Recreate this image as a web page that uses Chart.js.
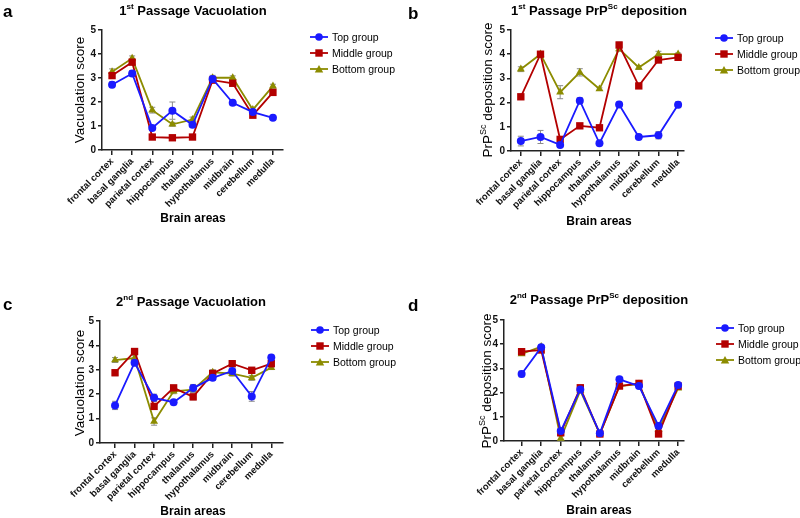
<!DOCTYPE html>
<html>
<head>
<meta charset="utf-8">
<script src="https://cdn.jsdelivr.net/npm/chart.js@4"></script>
<style>
  body { margin: 0; width: 800px; height: 518px; background: #fff; font-family: "Liberation Sans", Arial, sans-serif; color: #000; position: relative; overflow: hidden; }
  canvas { position: absolute; }
  .letter { position: absolute; font-weight: bold; font-size: 17px; }
  .title { position: absolute; width: 300px; text-align: center; font-weight: bold; font-size: 13px; line-height: 16px; }
  .title sup { font-size: 8px; vertical-align: 6px; line-height: 0; }
  .ytitle { position: absolute; width: 170px; text-align: center; font-size: 13.5px; line-height: 16px; transform: rotate(-90deg); white-space: nowrap; }
  .ytitle sup { font-size: 9px; vertical-align: 6px; line-height: 0; }
  .xtitle { position: absolute; width: 160px; text-align: center; font-weight: bold; font-size: 12px; line-height: 16px; }
  .legend { position: absolute; font-size: 10.5px; white-space: nowrap; }
  .legend div { display: flex; align-items: center; height: 16px; }
  .legend svg { margin-right: 4px; }
</style>
</head>
<body>
<canvas id="chartA" width="400" height="259" style="left:0;top:0"></canvas>
<canvas id="chartB" width="400" height="259" style="left:400px;top:0"></canvas>
<canvas id="chartC" width="400" height="259" style="left:0;top:259px"></canvas>
<canvas id="chartD" width="400" height="259" style="left:400px;top:259px"></canvas>
<div id="overlay"></div>

<script>
const categories = ["frontal cortex", "basal ganglia", "parietal cortex", "hippocampus", "thalamus",
  "hypothalamus", "midbrain", "cerebellum", "medulla"];
const groupNames = ["Top group", "Middle group", "Bottom group"];
const yTicks = [0, 1, 2, 3, 4, 5];

// a: 1st passage vacuolation
const vacTop1 = [2.72, 3.19, 0.92, 1.64, 1.05, 2.96, 1.97, 1.58, 1.34];
const vacMid1 = [3.10, 3.66, 0.54, 0.51, 0.54, 2.91, 2.78, 1.45, 2.40];
const vacBot1 = [3.26, 3.82, 1.66, 1.07, 1.27, 3.01, 3.01, 1.68, 2.66];
const vacTop1Err = [0.12, 0.12, 0.10, 0.36, 0.10, 0.10, 0.10, 0.10, 0.05];
const vacMid1Err = [0.10, 0.10, 0.05, 0.05, 0.05, 0.10, 0.10, 0.10, 0.10];
const vacBot1Err = [0.12, 0.10, 0.12, 0.08, 0.10, 0.10, 0.08, 0.08, 0.08];

// b: 1st passage PrPSc deposition
const depTop1 = [0.41, 0.58, 0.25, 2.08, 0.32, 1.92, 0.58, 0.65, 1.91];
const depMid1 = [2.24, 4.00, 0.48, 1.04, 0.96, 4.38, 2.69, 3.76, 3.87];
const depBot1 = [3.38, 4.00, 2.43, 3.25, 2.56, 4.22, 3.45, 4.00, 4.00];
const depTop1Err = [0.20, 0.27, 0.08, 0.12, 0.05, 0.10, 0.05, 0.15, 0.12];
const depMid1Err = [0.10, 0.05, 0.10, 0.08, 0.05, 0.12, 0.10, 0.10, 0.08];
const depBot1Err = [0.10, 0.05, 0.27, 0.15, 0.05, 0.10, 0.08, 0.12, 0.05];

// c: 2nd passage vacuolation
const vacTop2 = [1.54, 3.29, 1.85, 1.67, 2.25, 2.67, 2.95, 1.91, 3.50];
const vacMid2 = [2.88, 3.75, 1.50, 2.26, 1.89, 2.85, 3.25, 2.98, 3.25];
const vacBot2 = [3.40, 3.48, 0.88, 2.12, 2.19, 2.90, 2.84, 2.67, 3.09];
const vacTop2Err = [0.17, 0.12, 0.15, 0.10, 0.15, 0.10, 0.10, 0.20, 0.10];
const vacMid2Err = [0.12, 0.10, 0.12, 0.10, 0.12, 0.10, 0.10, 0.12, 0.10];
const vacBot2Err = [0.10, 0.10, 0.15, 0.10, 0.12, 0.10, 0.10, 0.10, 0.08];

// d: 2nd passage PrPSc deposition
const depTop2 = [2.77, 3.87, 0.41, 2.13, 0.32, 2.55, 2.27, 0.62, 2.31];
const depMid2 = [3.69, 3.76, 0.34, 2.20, 0.29, 2.27, 2.38, 0.29, 2.27];
const depBot2 = [3.60, 3.90, 0.11, 2.08, 0.29, 2.27, 2.35, 0.48, 2.18];
const depTop2Err = [0.12, 0.08, 0.08, 0.08, 0.05, 0.08, 0.08, 0.10, 0.08];
const depMid2Err = [0.08, 0.08, 0.10, 0.08, 0.05, 0.08, 0.08, 0.10, 0.08];
const depBot2Err = [0.05, 0.05, 0.10, 0.08, 0.05, 0.05, 0.05, 0.08, 0.05];

const colors = ["#1a1aff", "#b30000", "#8c8c00"];
const pointStyles = ["circle", "rect", "triangle"];
const pointRadii = [4, 5.2, 4.6];

// grey error bars under each series
const errorBars = {
  id: "errorBars",
  beforeDatasetsDraw(chart) {
    const { ctx, scales: { x, y } } = chart;
    ctx.save();
    ctx.strokeStyle = "#8a8a8a";
    ctx.lineWidth = 1;
    chart.data.datasets.forEach((ds) => {
      ds.data.forEach((p, i) => {
        const e = ds.errors[i];
        const px = x.getPixelForValue(p.x);
        const y1 = y.getPixelForValue(p.y + e);
        const y2 = y.getPixelForValue(p.y - e);
        ctx.beginPath();
        ctx.moveTo(px, y1); ctx.lineTo(px, y2);
        ctx.moveTo(px - 3, y1); ctx.lineTo(px + 3, y1);
        ctx.moveTo(px - 3, y2); ctx.lineTo(px + 3, y2);
        ctx.stroke();
      });
    });
    ctx.restore();
  },
};

const makePanel = (id, series, errors, box, xMin, xMax) => {
  new Chart(document.getElementById(id), {
    type: "line",
    data: {
      datasets: series.map((vals, k) => ({
        label: groupNames[k],
        data: vals.map((v, i) => ({ x: i, y: v })),
        errors: errors[k],
        borderColor: colors[k],
        backgroundColor: colors[k],
        borderWidth: 1.8,
        pointStyle: pointStyles[k],
        pointRadius: pointRadii[k],
        pointBorderWidth: 0,
        tension: 0,
      })),
    },
    options: {
      responsive: false,
      animation: false,
      devicePixelRatio: 1,
      layout: { padding: { left: 0, top: box.top, right: 400 - box.right, bottom: 0 } },
      plugins: { legend: { display: false }, tooltip: { enabled: false } },
      scales: {
        x: {
          type: "linear",
          min: xMin,
          max: xMax,
          afterBuildTicks: (scale) => { scale.ticks = categories.map((_, i) => ({ value: i })); },
          afterFit: (scale) => { scale.height = 259 - box.bottom; },
          ticks: {
            autoSkip: false,
            minRotation: 45,
            maxRotation: 45,
            padding: 1,
            color: "#111",
            font: { family: "Liberation Sans", weight: "bold", size: 9.5 },
            callback: (v) => categories[v],
          },
          grid: { drawOnChartArea: false, drawTicks: true, tickLength: 5, color: "#222", lineWidth: 1.5 },
          border: { color: "#222", width: 1.5 },
        },
        y: {
          min: 0,
          max: 5,
          afterBuildTicks: (scale) => { scale.ticks = yTicks.map((v) => ({ value: v })); },
          afterFit: (scale) => { scale.width = box.left; },
          ticks: {
            padding: 2,
            color: "#111",
            font: { family: "Liberation Sans", weight: "bold", size: 10 },
          },
          grid: { drawOnChartArea: false, drawTicks: true, tickLength: 4, color: "#222", lineWidth: 1.5 },
          border: { color: "#222", width: 1.5 },
        },
      },
    },
    plugins: [errorBars],
  });
};

makePanel("chartA", [vacTop1, vacMid1, vacBot1], [vacTop1Err, vacMid1Err, vacBot1Err],
  { left: 102, top: 30, right: 283, bottom: 150 }, -0.5, 8.5);
makePanel("chartB", [depTop1, depMid1, depBot1], [depTop1Err, depMid1Err, depBot1Err],
  { left: 111, top: 30, right: 284, bottom: 151 }, -0.5, 8.3);
makePanel("chartC", [vacTop2, vacMid2, vacBot2], [vacTop2Err, vacMid2Err, vacBot2Err],
  { left: 100, top: 62, right: 283, bottom: 184 }, -0.77, 8.6);
makePanel("chartD", [depTop2, depMid2, depBot2], [depTop2Err, depMid2Err, depBot2Err],
  { left: 104, top: 61, right: 284, bottom: 182 }, -0.9, 8.3);

// text overlays: letters, titles, axis titles, legends
const overlay = document.getElementById("overlay");
const add = (cls, html, css) => {
  const el = document.createElement("div");
  el.className = cls;
  el.innerHTML = html;
  Object.assign(el.style, css);
  overlay.appendChild(el);
  return el;
};

const legendIcon = (k) => {
  const c = colors[k];
  let mark = "";
  if (k === 0) mark = `<circle cx="9" cy="5" r="3.8" fill="${c}"/>`;
  if (k === 1) mark = `<rect x="5.3" y="1.3" width="7.4" height="7.4" fill="${c}"/>`;
  if (k === 2) mark = `<polygon points="9,1 13.2,8.6 4.8,8.6" fill="${c}"/>`;
  return `<svg width="18" height="10"><line x1="0" y1="5" x2="18" y2="5" stroke="${c}" stroke-width="1.8"/>${mark}</svg>`;
};

const panels = [
  { letter: "a", lx: 3, ly: 2, title: "1<sup>st</sup> Passage Vacuolation", tx: 193, ty: 11,
    ytitle: "Vacuolation score", yx: 80, yy: 90, bx: 193, by: 218, gx: 310, gy: 37 },
  { letter: "b", lx: 408, ly: 4, title: "1<sup>st</sup> Passage PrP<sup>Sc</sup> deposition", tx: 599, ty: 11,
    ytitle: "PrP<sup>Sc</sup> deposition score", yx: 488, yy: 90, bx: 599, by: 221, gx: 715, gy: 38 },
  { letter: "c", lx: 3, ly: 295, title: "2<sup>nd</sup> Passage Vacuolation", tx: 191, ty: 302,
    ytitle: "Vacuolation score", yx: 80, yy: 383, bx: 193, by: 511, gx: 311, gy: 330 },
  { letter: "d", lx: 408, ly: 296, title: "2<sup>nd</sup> Passage PrP<sup>Sc</sup> deposition", tx: 599, ty: 300,
    ytitle: "PrP<sup>Sc</sup> deposition score", yx: 487, yy: 381, bx: 599, by: 510, gx: 716, gy: 328 },
];

panels.forEach((p) => {
  add("letter", p.letter, { left: p.lx + "px", top: p.ly + "px" });
  add("title", p.title, { left: p.tx - 150 + "px", top: p.ty - 8 + "px" });
  add("ytitle", p.ytitle, { left: p.yx - 85 + "px", top: p.yy - 8 + "px" });
  add("xtitle", "Brain areas", { left: p.bx - 80 + "px", top: p.by - 8 + "px" });
  const rows = groupNames.map((g, k) => `<div>${legendIcon(k)}${g}</div>`).join("");
  add("legend", rows, { left: p.gx + "px", top: p.gy - 8 + "px" });
});
</script>
</body>
</html>
